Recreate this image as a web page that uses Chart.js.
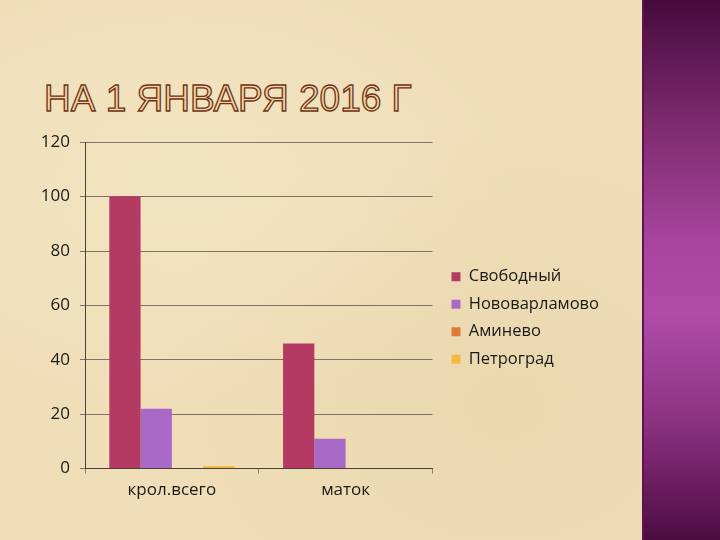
<!DOCTYPE html>
<html>
<head>
<meta charset="utf-8">
<script src="https://cdn.jsdelivr.net/npm/chart.js@4/dist/chart.umd.min.js"></script>
<style>
  html,body{margin:0;padding:0;}
  body{width:720px;height:540px;position:relative;overflow:hidden;
    background:
      radial-gradient(ellipse at 25% 35%, rgba(250,238,210,.35), rgba(250,238,210,0) 45%),
      radial-gradient(ellipse at 70% 75%, rgba(226,204,158,.35), rgba(226,204,158,0) 50%),
      #efdeb8;
    font-family:"Open Sans",sans-serif;}
  #strip{position:absolute;left:642px;top:0;width:78px;height:540px;
    background:linear-gradient(to bottom,#470a3c 0%,#7a2a6c 22%,#a8449e 45%,#b04ca8 58%,#8c3282 78%,#4c0c40 100%);
    border-left:2px solid #5b1650;box-sizing:border-box;}
  #title{position:absolute;left:44px;top:78px;margin:0;
    font-family:"Liberation Sans",sans-serif;font-weight:normal;font-size:37px;letter-spacing:0px;
    color:#f6d2a0;-webkit-text-stroke:1.3px #6b3418;white-space:nowrap;}
  #wrap{position:absolute;left:0;top:122px;width:601px;height:384px;}
</style>
</head>
<body>
<div id="strip"></div>
<h1 id="title">НА 1 ЯНВАРЯ 2016 Г</h1>
<div id="wrap"><canvas id="c"></canvas></div>
<script>
  const categories = ["крол.всего", "маток"];
  const seriesNames = ["Свободный", "Нововарламово", "Аминево", "Петроград"];
  const svobodny = [100, 46];
  const novovarlamovo = [22, 11];
  const aminevo = [0, 0];
  const petrograd = [1, 0];
  const colors = ["#b53a63", "#a86ac6", "#e07a38", "#f5b840"];

  const values = [svobodny, novovarlamovo, aminevo, petrograd];

  // nudge legend a bit away from the plot
  const legendGap = {
    id: "legendGap",
    afterUpdate(chart){
      const lg = chart.legend;
      if(!lg) return;
      lg.left += 8; lg.right += 8;
    }
  };

  function draw(){
    new Chart(document.getElementById("c"), {
      type: "bar",
      data: {
        labels: categories,
        datasets: seriesNames.map((name, i) => ({
          label: name,
          data: values[i],
          backgroundColor: colors[i],
          borderWidth: 0,
          categoryPercentage: 0.72,
          barPercentage: 1
        }))
      },
      options: {
        responsive: true,
        maintainAspectRatio: false,
        animation: false,
        layout: { padding: { top: 8, right: 0, bottom: 0, left: 0 } },
        plugins: {
          legend: {
            position: "right",
            maxWidth: 240,
            labels: {
              boxWidth: 9, boxHeight: 9, padding: 11,
              color: "#1a1a1a",
              font: { family: "Open Sans", size: 16.5 }
            }
          },
          tooltip: { enabled: false }
        },
        scales: {
          x: {
            grid: { display: true, drawOnChartArea: false, offset: true, tickLength: 5, color: "#8a8070" },
            border: { color: "#4a4238" },
            ticks: { color: "#1a1a1a", font: { family: "Open Sans", size: 17 }, padding: 6 }
          },
          y: {
            min: 0, max: 120,
            ticks: { stepSize: 20, color: "#1a1a1a", font: { family: "Open Sans", size: 17 }, padding: 10 },
            grid: { color: "#7d7466", tickLength: 5 },
            border: { color: "#4a4238" },
            afterFit: (s) => { s.width = 85; }
          }
        }
      },
      plugins: [legendGap]
    });
  }

  document.fonts.load('17px "Open Sans"').then(draw, draw);
</script>
</body>
</html>
